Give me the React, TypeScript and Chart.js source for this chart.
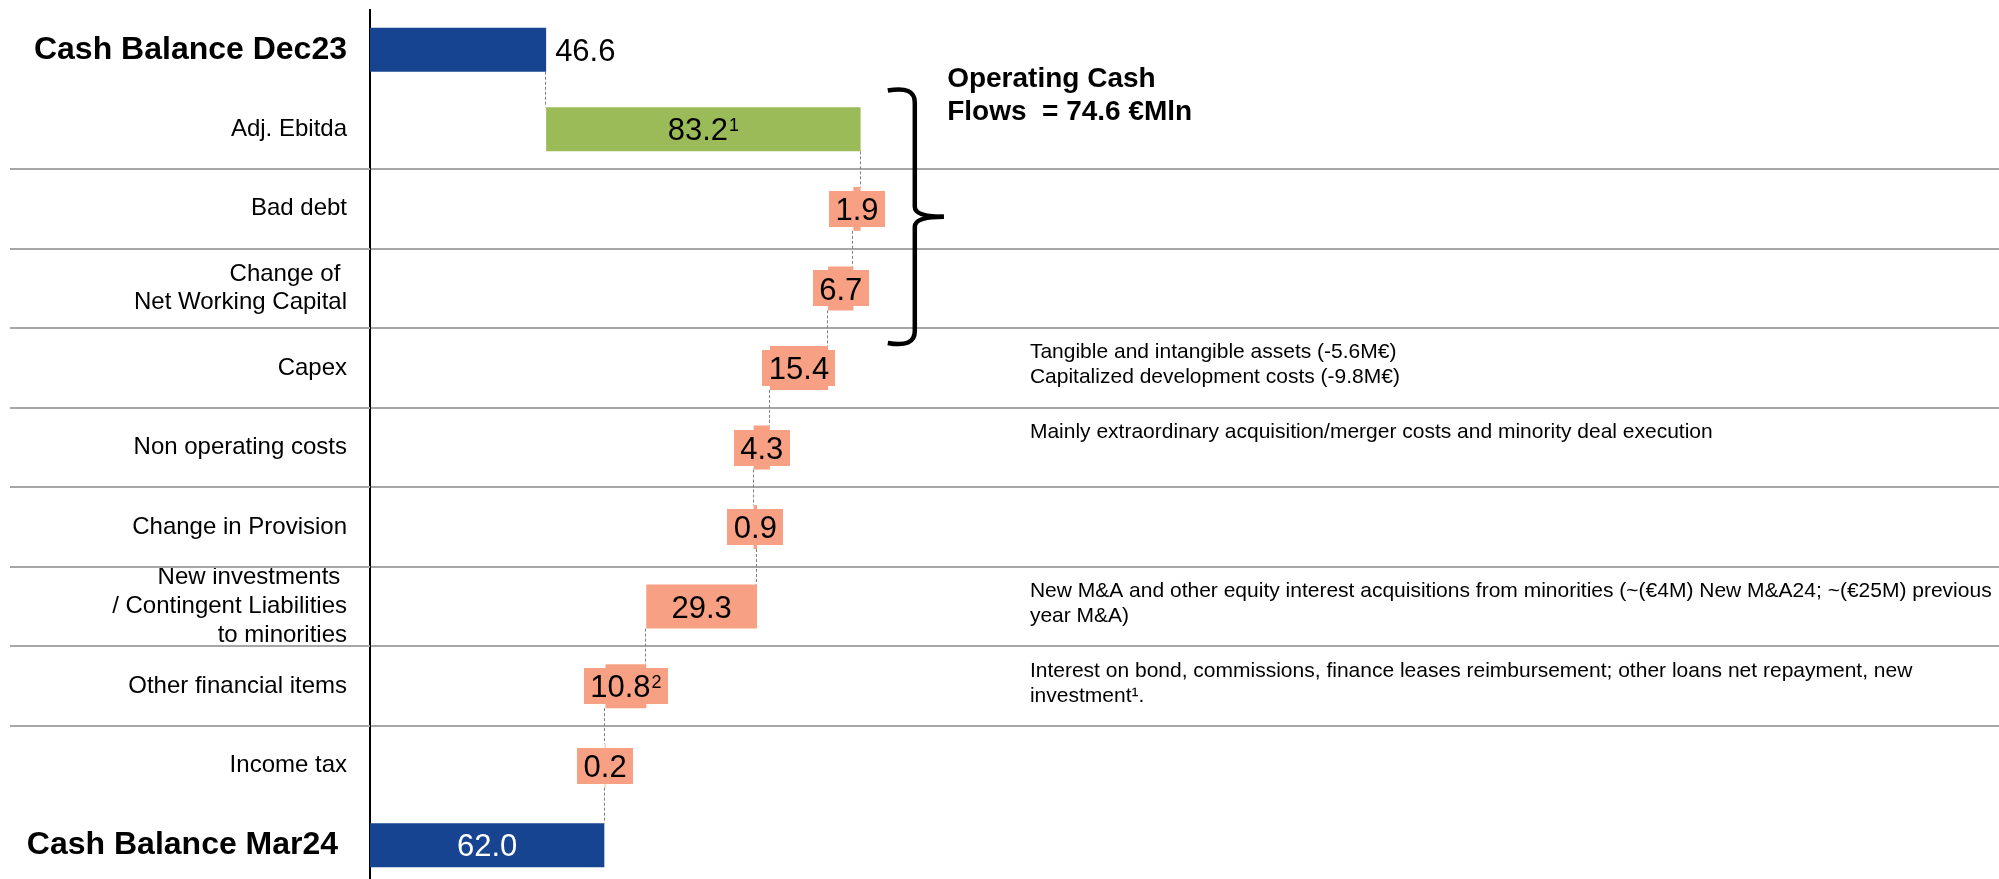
import React, { useEffect, useRef } from 'react';
import { Chart, registerables } from 'chart.js';

Chart.register(...registerables);

const FONT = '"Liberation Sans", Arial, Helvetica, sans-serif';

// ---------- data ----------
const categories: (string | string[])[] = [
  'Cash Balance Dec23',
  'Adj. Ebitda',
  'Bad debt',
  ['Change of ', 'Net Working Capital'],
  'Capex',
  'Non operating costs',
  'Change in Provision',
  ['New investments ', '/ Contingent Liabilities', 'to minorities'],
  'Other financial items',
  'Income tax',
  'Cash Balance Mar24 ',
];

const deltas = [46.6, 83.2, -1.9, -6.7, -15.4, -4.3, 0.9, -29.3, -10.8, -0.2, 62.0];

const kinds = ['total', 'ebitda', 'item', 'item', 'item', 'item', 'item', 'item', 'item', 'item', 'total'];

const valueLabels = ['46.6', '83.2', '1.9', '6.7', '15.4', '4.3', '0.9', '29.3', '10.8', '0.2', '62.0'];

const valueSup = ['', '1', '', '', '', '', '', '', '2', '', ''];

const notes: (string[] | null)[] = [
  null,
  null,
  null,
  null,
  ['Tangible and intangible assets (-5.6M€)', 'Capitalized development costs (-9.8M€)'],
  ['Mainly extraordinary acquisition/merger costs and minority deal execution'],
  null,
  [
    'New M&A and other equity interest acquisitions from minorities (~(€4M) New M&A24; ~(€25M) previous',
    'year M&A)',
  ],
  ['Interest on bond, commissions, finance leases reimbursement; other loans net repayment, new', 'investment¹.'],
  null,
  null,
];

const bracketTitle = ['Operating Cash', 'Flows  = 74.6 €Mln'];

// ---------- derived ----------
const runAfter: number[] = [];
const ranges: [number, number][] = (() => {
  let run = 0;
  return deltas.map((d, i) => {
    if (kinds[i] === 'total') {
      run = d;
      runAfter.push(run);
      return [0, d] as [number, number];
    }
    const s = run;
    run = Math.round((run + d) * 10) / 10;
    runAfter.push(run);
    return [Math.min(s, run), Math.max(s, run)] as [number, number];
  });
})();

const COLORS: Record<string, string> = {
  total: '#164490',
  ebitda: '#9BBB59',
  item: '#F7A083',
};

const X_MAX = 431;
const NOTE_X = 174.6;
const TITLE_X = 152.7;
const BRACE_X = 137;

const decorPlugin = {
  id: 'waterfallDecor',
  beforeDatasetsDraw(chart: any) {
    const ctx = chart.ctx;
    const y = chart.scales.y;
    const left = chart.chartArea.left;
    ctx.save();
    ctx.strokeStyle = '#A6A6A6';
    ctx.lineWidth = 2;
    for (let i = 2; i <= 9; i++) {
      const yy = Math.round((y.getPixelForValue(i) + y.getPixelForValue(i - 1)) / 2);
      ctx.beginPath();
      ctx.moveTo(10, yy);
      ctx.lineTo(left, yy);
      ctx.stroke();
    }
    ctx.restore();
  },
  afterDatasetsDraw(chart: any) {
    const ctx = chart.ctx;
    const xs = chart.scales.x;
    const ys = chart.scales.y;
    const meta = chart.getDatasetMeta(0);
    const barH = meta.data[0].height;

    ctx.save();
    // connectors
    ctx.strokeStyle = '#7F7F7F';
    ctx.lineWidth = 1;
    ctx.setLineDash([3, 2]);
    for (let i = 0; i < deltas.length - 1; i++) {
      const x = Math.round(xs.getPixelForValue(runAfter[i])) - 0.5;
      const y1 = ys.getPixelForValue(i) + barH / 2;
      const y2 = ys.getPixelForValue(i + 1) - barH / 2;
      ctx.beginPath();
      ctx.moveTo(x, y1);
      ctx.lineTo(x, y2);
      ctx.stroke();
    }
    ctx.setLineDash([]);

    // value labels
    const MAIN = 31;
    const SUP = 18;
    for (let i = 0; i < deltas.length; i++) {
      const [a, b] = ranges[i];
      const x0 = xs.getPixelForValue(a);
      const x1 = xs.getPixelForValue(b);
      const cy = ys.getPixelForValue(i);
      const main = valueLabels[i];
      const sup = valueSup[i];
      ctx.font = `${MAIN}px ${FONT}`;
      const mw = ctx.measureText(main).width;
      ctx.font = `${SUP}px ${FONT}`;
      const sw = sup ? ctx.measureText(sup).width + 1 : 0;
      const tw = mw + sw;
      let tx: number;
      let color = '#000';
      if (i === 0) {
        tx = x1 + 9;
      } else {
        tx = (x0 + x1) / 2 - tw / 2;
        if (kinds[i] === 'total') color = '#fff';
      }
      if (kinds[i] === 'item') {
        ctx.fillStyle = COLORS.item;
        ctx.fillRect(Math.round((x0 + x1) / 2 - tw / 2 - 6.5), Math.round(cy - 18), Math.round(tw + 13), 36);
      }
      const base = cy + 0.358 * MAIN;
      ctx.fillStyle = color;
      ctx.textAlign = 'left';
      ctx.textBaseline = 'alphabetic';
      ctx.font = `${MAIN}px ${FONT}`;
      ctx.fillText(main, tx, base);
      if (sup) {
        ctx.font = `${SUP}px ${FONT}`;
        ctx.fillText(sup, tx + mw + 1, base - 9.5);
      }
    }
    ctx.restore();
  },
  afterDraw(chart: any) {
    const ctx = chart.ctx;
    const xs = chart.scales.x;
    const ys = chart.scales.y;
    const meta = chart.getDatasetMeta(0);
    const barH = meta.data[0].height;
    ctx.save();

    // notes
    ctx.fillStyle = '#000';
    ctx.textAlign = 'left';
    ctx.textBaseline = 'alphabetic';
    ctx.font = `21px ${FONT}`;
    const nx = xs.getPixelForValue(NOTE_X);
    notes.forEach((lines, i) => {
      if (!lines) return;
      const cy = ys.getPixelForValue(i);
      lines.forEach((ln, k) => {
        ctx.fillText(ln, nx, cy - 17 + k * 25 + 7.5);
      });
    });

    // bracket title
    const b01 = (ys.getPixelForValue(0) + ys.getPixelForValue(1)) / 2;
    ctx.font = `bold 28px ${FONT}`;
    const tx = xs.getPixelForValue(TITLE_X);
    ctx.fillText(bracketTitle[0], tx, b01 - 3);
    ctx.fillText(bracketTitle[1], tx, b01 + 30);

    // brace
    const bx = xs.getPixelForValue(BRACE_X);
    const spine = bx + 27;
    const tip = bx + 56;
    const top = b01 - 1;
    const bot = ys.getPixelForValue(4) - barH / 2 - 1;
    const mid = (top + bot) / 2;
    ctx.strokeStyle = '#000';
    ctx.lineWidth = 4.5;
    ctx.lineJoin = 'round';
    ctx.lineCap = 'butt';
    ctx.beginPath();
    ctx.moveTo(bx, top + 2);
    ctx.quadraticCurveTo(spine, top - 3, spine, top + 14);
    ctx.lineTo(spine, mid - 10);
    ctx.quadraticCurveTo(spine, mid, tip, mid);
    ctx.stroke();
    ctx.beginPath();
    ctx.moveTo(tip, mid);
    ctx.quadraticCurveTo(spine, mid, spine, mid + 10);
    ctx.lineTo(spine, bot - 14);
    ctx.quadraticCurveTo(spine, bot + 3, bx, bot - 2);
    ctx.stroke();

    ctx.restore();
  },
};

export default function App() {
  const ref = useRef<HTMLCanvasElement | null>(null);

  useEffect(() => {
    if (!ref.current) return;
    Chart.defaults.font.family = FONT;
    const chart = new Chart(ref.current, {
      type: 'bar',
      data: {
        labels: categories as any,
        datasets: [
          {
            data: ranges as any,
            backgroundColor: kinds.map((k) => COLORS[k]),
            borderWidth: 0,
            barPercentage: 0.553,
            categoryPercentage: 1,
          },
        ],
      },
      options: {
        indexAxis: 'y',
        responsive: false,
        animation: false,
        devicePixelRatio: 1,
        layout: { padding: { top: 10, left: 0, right: 0, bottom: 0 } },
        plugins: {
          legend: { display: false },
          tooltip: { enabled: false },
        },
        scales: {
          x: {
            type: 'linear',
            min: 0,
            max: X_MAX,
            display: false,
          },
          y: {
            type: 'category',
            offset: true,
            afterFit: (scale: any) => {
              scale.width = 370;
              scale.paddingTop = 0;
              scale.paddingBottom = 0;
            },
            border: { display: true, color: '#000', width: 2 },
            grid: {
              offset: true,
              drawTicks: false,
              lineWidth: 2,
              color: (c: any) => (c.index >= 2 && c.index <= 9 ? '#A6A6A6' : 'rgba(0,0,0,0)'),
            },
            ticks: {
              padding: 23,
              color: '#000',
              autoSkip: false,
              font: (c: any) =>
                c.index === 0 || c.index === categories.length - 1
                  ? { size: 32, weight: 'bold', family: FONT, lineHeight: 1.2 }
                  : { size: 24, family: FONT, lineHeight: 1.2 },
            },
          },
        },
      },
      plugins: [decorPlugin],
    });
    return () => chart.destroy();
  }, []);

  return (
    <div style={{ position: 'fixed', left: 0, top: 0, width: 1999, height: 885, background: '#fff' }}>
      <canvas ref={ref} width={1999} height={885} style={{ width: 1999, height: 885, display: 'block' }} />
    </div>
  );
}
